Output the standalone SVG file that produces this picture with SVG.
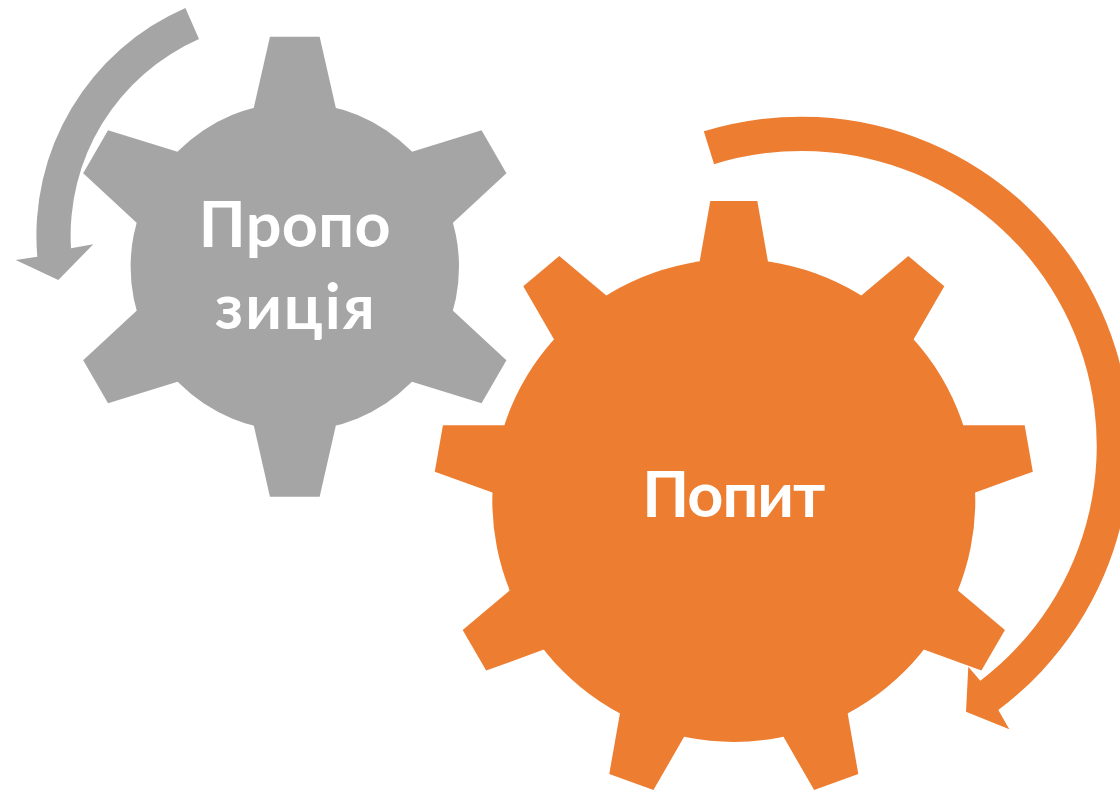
<svg xmlns="http://www.w3.org/2000/svg" xmlns:xlink="http://www.w3.org/1999/xlink" width="1120" height="792" viewBox="0 0 1120 792">
  <style>
    .gray { fill: #A5A5A5; }
    .orange { fill: #ED7D31; }
    .label { fill: #FFFFFF; font-family: "Lato", "Open Sans", "Noto Sans", sans-serif; font-weight: bold; font-size: 63px; text-anchor: middle; }
  </style>
  <defs>
    <polygon id="toothGray" points="-24.85,-230 24.85,-230 41,-159 41,-140 -41,-140 -41,-159"/>
    <polygon id="toothOrange" points="-23.5,-299.5 23.5,-299.5 34.15,-239.1 34.15,-220 -34.15,-220 -34.15,-239.1"/>
  </defs>
  <rect width="1120" height="792" fill="#FFFFFF"/>

  <g id="connectors">
    <path id="arrowGray" class="gray" d="M 185.4,7.9 A 248.5 248.5 0 0 0 37.3,256.7 L 15.7,260 L 58.3,280 L 93.3,244.3 L 71,248.3 A 214.5 214.5 0 0 1 199,39.1 Z"/>
  </g>

  <g id="node-propozytsiia" class="gray" transform="translate(294.8,266.7)">
    <circle r="164.2"/>
    <use xlink:href="#toothGray"/>
    <use xlink:href="#toothGray" transform="rotate(60)"/>
    <use xlink:href="#toothGray" transform="rotate(120)"/>
    <use xlink:href="#toothGray" transform="rotate(180)"/>
    <use xlink:href="#toothGray" transform="rotate(240)"/>
    <use xlink:href="#toothGray" transform="rotate(300)"/>
    <text class="label" x="0" y="-20" textLength="192" lengthAdjust="spacing">Пропо</text>
    <text class="label" x="0" y="62.5" textLength="160" lengthAdjust="spacing">зиція</text>
  </g>

  <g id="node-popyt" class="orange" transform="translate(733.8,500.5)">
    <circle r="241.5"/>
    <use xlink:href="#toothOrange"/>
    <use xlink:href="#toothOrange" transform="rotate(40)"/>
    <use xlink:href="#toothOrange" transform="rotate(80)"/>
    <use xlink:href="#toothOrange" transform="rotate(120)"/>
    <use xlink:href="#toothOrange" transform="rotate(160)"/>
    <use xlink:href="#toothOrange" transform="rotate(200)"/>
    <use xlink:href="#toothOrange" transform="rotate(240)"/>
    <use xlink:href="#toothOrange" transform="rotate(280)"/>
    <use xlink:href="#toothOrange" transform="rotate(320)"/>
    <text class="label" x="0" y="16.2" textLength="183" lengthAdjust="spacing">Попит</text>
  </g>

  <g id="connectors-2">
    <path id="arrowOrange" class="orange" d="M 703.8,131.3 A 329.5 329.5 0 0 1 998.3,710 L 1009.3,729.3 L 966,711.7 L 968.3,666.7 L 980.3,680.7 A 295 295 0 0 0 714.1,164.2 Z"/>
  </g>
</svg>
